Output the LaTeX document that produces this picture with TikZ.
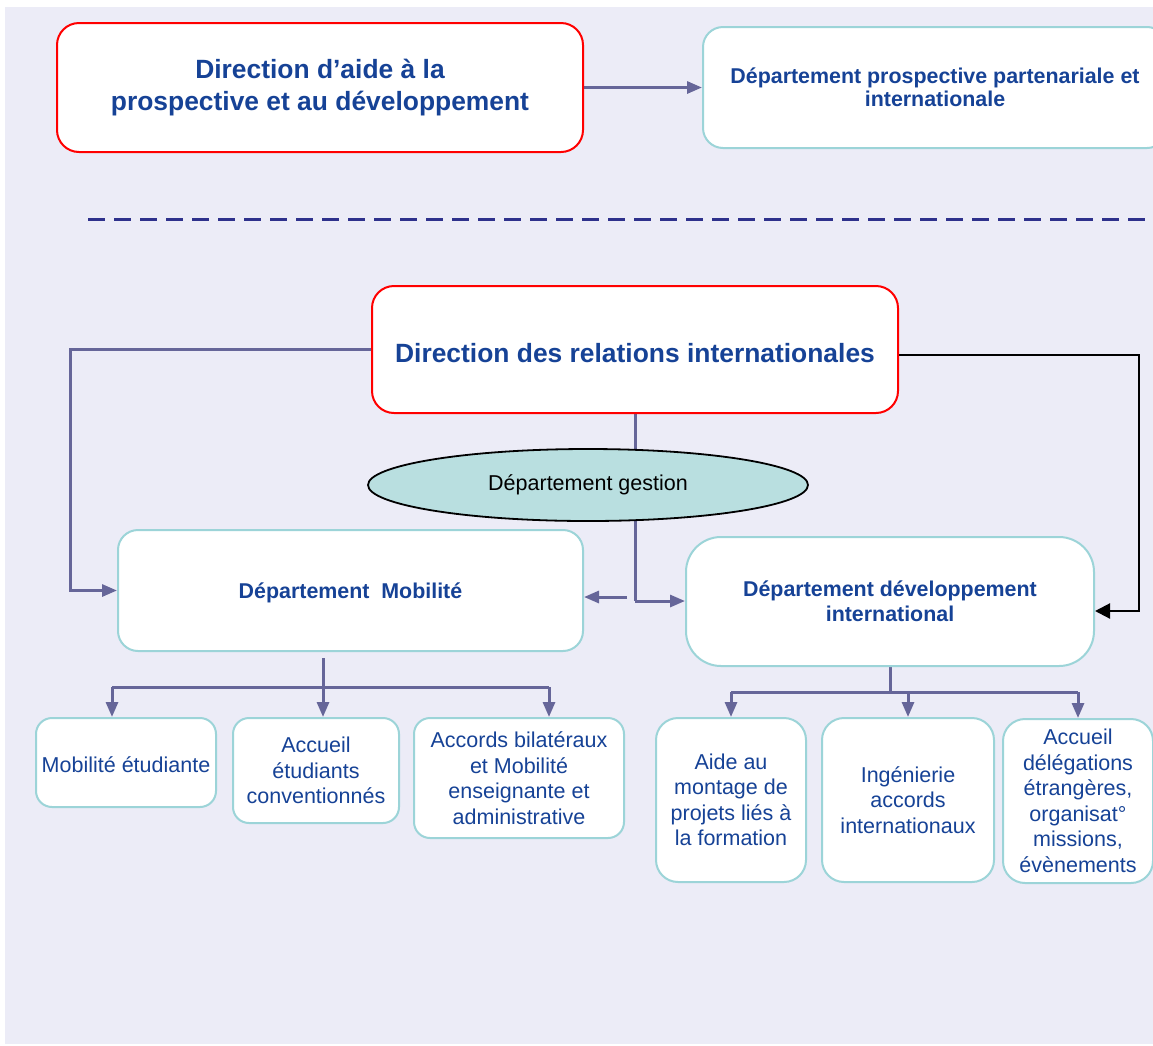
\documentclass[tikz,border=0pt]{standalone}
\usepackage{fontspec}
\setmainfont{Liberation Sans}
\usetikzlibrary{arrows.meta,shapes.geometric}
\definecolor{lav}{RGB}{236,236,247}
\definecolor{conn}{RGB}{102,102,153}
\definecolor{cyanb}{RGB}{156,212,216}
\definecolor{txtblue}{RGB}{22,66,150}
\definecolor{dashc}{RGB}{46,49,140}
\definecolor{ellfill}{RGB}{185,223,224}
\pgfdeclarelayer{bgzero}
\pgfdeclarelayer{background}
\pgfsetlayers{bgzero,background,main}
\tikzset{
  redbox/.style={draw=red, line width=2pt, fill=white, rounded corners=22pt, inner sep=0pt,
     align=center, text=txtblue, font=\bfseries\fontsize{26.4}{32}\selectfont,
     execute at begin node={\rule{0pt}{27pt}}},
  cbox/.style={draw=cyanb, line width=2pt, fill=white, rounded corners=20pt, inner sep=0pt,
     align=center, text=txtblue, font=\bfseries\fontsize{21.4}{25}\selectfont,
     execute at begin node={\rule{0pt}{20pt}}},
  sbox/.style={draw=cyanb, line width=2pt, fill=white, rounded corners=16pt, inner sep=0pt,
     align=center, text=txtblue, font=\fontsize{21.5}{25.5}\selectfont,
     execute at begin node={\rule{0pt}{20pt}}},
  lnk/.style={draw=conn, line width=3pt},
  arr/.style={lnk, -{Triangle[length=15pt,width=12pt]}},
  blk/.style={draw=black, line width=2.2pt, -{Triangle[length=15pt,width=15pt]}},
}
\begin{document}
\begin{tikzpicture}[x=1pt,y=-1pt]
\useasboundingbox (0,0) rectangle (1153,1045);
\begin{pgfonlayer}{bgzero}
\fill[white] (0,0) rectangle (1153,1045);
\fill[lav] (5,7) rectangle (1160,1044);
\end{pgfonlayer}

% nodes
\node[redbox, minimum width=526pt, minimum height=129pt] (A) at (320,87.5)
  {Direction d’aide à la\\prospective et au développement};
\node[cbox, minimum width=464pt, minimum height=121pt, font=\bfseries\fontsize{21.4}{23}\selectfont] (B) at (935,87.5)
  {Département prospective partenariale et\\internationale};
\node[redbox, minimum width=526pt, minimum height=127pt] (C) at (635,349.5)
  {Direction des relations internationales};
\node[cbox, minimum width=465pt, minimum height=121pt] (D) at (350.5,590.5)
  {Département\ \ Mobilité};
\node[cbox, rounded corners=35pt, minimum width=408pt, minimum height=129pt] (E) at (890,601.5)
  {Département développement\\international};
\node[ellipse, draw=black, line width=1.8pt, fill=ellfill, minimum width=440pt, minimum height=72pt,
  inner sep=0pt, font=\fontsize{21.5}{24}\selectfont] (G) at (588,485) {Département gestion};

\node[sbox, minimum width=180pt, minimum height=89pt] (F1) at (126,762.5) {Mobilité étudiante};
\node[sbox, minimum width=166pt, minimum height=105pt] (F2) at (316,770.5)
  {Accueil\\étudiants\\conventionnés};
\node[sbox, minimum width=210pt, minimum height=120pt] (F3) at (519,778)
  {Accords bilatéraux\\et Mobilité\\enseignante et\\administrative};
\node[sbox, rounded corners=22pt, minimum width=150pt, minimum height=164pt] (G1) at (731,800)
  {Aide au\\montage de\\projets liés à\\la formation};
\node[sbox, rounded corners=22pt, minimum width=172pt, minimum height=164pt] (G2) at (908,800)
  {Ingénierie\\accords\\internationaux};
\node[sbox, rounded corners=22pt, minimum width=150pt, minimum height=164pt] (G3) at (1078,801)
  {Accueil\\délégations\\étrangères,\\organisat°\\missions,\\évènements};

% helper coordinates
\coordinate (dl) at (88,219);
\coordinate (dr) at (1153,219);
\coordinate (cl) at (70,350);
\coordinate (cr) at (1139,355);
\coordinate (er) at (1139,611);
\coordinate (gj) at (635,601);
\coordinate (gl) at (627,597);
\coordinate (dtop) at (323,658);
\coordinate (dj) at (323,687);
\coordinate (b1) at (112,687);
\coordinate (b3) at (549,687);
\coordinate (ej) at (890,692);
\coordinate (e1) at (731,692);
\coordinate (e2) at (908,692);
\coordinate (e3) at (1078,692);

\begin{pgfonlayer}{background}
\draw[arr] (A.east) -- (B.west);
\draw[draw=dashc, line width=3pt, dash pattern=on 17pt off 9pt] (dl) -- (dr);
\draw[arr] (C.west) -- (C.west -| cl) |- (D.west);
\draw[blk] (cr -| C.east) -- (cr) -- (er) -- (er -| E.east);
\draw[lnk] (C.south) -- (gj);
\draw[arr] (gj) -- (gj -| E.west);
\draw[arr] (gl) -- (gl -| D.east);
\draw[lnk] (dtop) -- (dj);
\draw[lnk] (b1) -- (b3);
\draw[arr] (b1) -- (b1 |- F1.north);
\draw[arr] (dj) -- (dj |- F2.north);
\draw[arr] (b3) -- (b3 |- F3.north);
\draw[lnk] (E.south -| ej) -- (ej);
\draw[lnk] (e1) -- (e3);
\draw[arr] (e1) -- (e1 |- G1.north);
\draw[arr] (e2) -- (e2 |- G2.north);
\draw[arr] (e3) -- (e3 |- G3.north);
\end{pgfonlayer}
\end{tikzpicture}
\end{document}
